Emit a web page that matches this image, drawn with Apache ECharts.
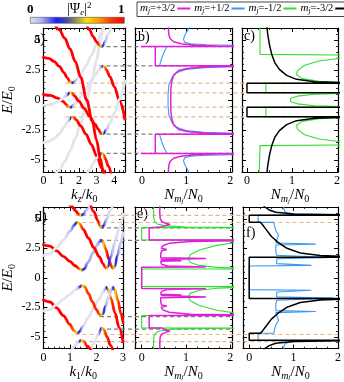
<!DOCTYPE html>
<html><head><meta charset="utf-8">
<script src="https://cdn.jsdelivr.net/npm/echarts@6/dist/echarts.min.js"></script>
<style>html,body{margin:0;padding:0;background:#fff}#c{width:344px;height:382px}</style>
</head><body><div id="c"></div><script>
// ---------------- DATA ----------------
const eMajor = [-5, -2.5, 0, 2.5, 5];
const eMinor = [-6,-5.5,-4.5,-4,-3.5,-3,-2,-1.5,-1,-0.5,0.5,1,1.5,2,3,3.5,4,4.5,5.5,6];
const kzMajor = [0, 1, 2, 3, 4];
const kzMinor = [0.25,0.5,0.75,1.25,1.5,1.75,2.25,2.5,2.75,3.25,3.5,3.75,4.25,4.5];
const k1Major = [0, 1, 2, 3];
const k1Minor = [0.2,0.4,0.6,0.8,1.2,1.4,1.6,1.8,2.2,2.4,2.6,2.8];
const nMajor = [0, 1, 2];
const nMinor = [0.25,0.5,0.75,1.25,1.5,1.75];
const mjNames = ['+3/2', '+1/2', '-1/2', '-3/2'];

// panel a: bands E(k_z) and electron weight |Psi_e|^2 along k_z
const aU1 = [[0,3.55],[0.3,3.47],[0.6,3.22],[0.9,2.8],[1.15,2.3],[1.35,1.85],[1.5,1.55],[1.6,1.43],[1.7,1.45],[1.85,1.65],[2.1,2.15],[2.4,2.85],[2.7,3.7],[3.0,4.65],[3.3,5.7],[3.5,6.4]];
const aU1w = [[0,1],[1.4,1],[1.5,0.85],[1.56,0.62],[1.61,0.42],[1.66,0.28],[1.76,0.12],[1.95,0],[3.5,0]];
const aL1 = [[0,-3.55],[0.3,-3.47],[0.6,-3.22],[0.9,-2.8],[1.15,-2.3],[1.35,-1.85],[1.5,-1.55],[1.6,-1.43],[1.7,-1.45],[1.85,-1.65],[2.1,-2.15],[2.4,-2.85],[2.7,-3.7],[3.0,-4.65],[3.3,-5.7],[3.5,-6.4]];
const aL1w = [[0,0],[1.4,0],[1.5,0.15],[1.56,0.38],[1.61,0.58],[1.66,0.72],[1.76,0.88],[1.95,1],[3.5,1]];
const aU2 = [[0,-0.45],[0.4,-0.38],[0.8,-0.15],[1.1,0.12],[1.3,0.38],[1.44,0.56],[1.52,0.62],[1.6,0.57],[1.75,0.35],[2.0,-0.1],[2.3,-0.7],[2.6,-1.35],[2.9,-2.0],[3.1,-2.45],[3.22,-2.72],[3.32,-2.83],[3.42,-2.76],[3.55,-2.5],[3.75,-1.95],[4.0,-1.1],[4.3,0.1],[4.6,1.6]];
const aU2w = [[0,0],[1.25,0],[1.38,0.12],[1.46,0.28],[1.52,0.45],[1.58,0.62],[1.68,0.85],[1.8,1],[3.12,1],[3.22,0.82],[3.28,0.6],[3.33,0.42],[3.38,0.27],[3.48,0.1],[3.65,0],[4.6,0]];
const aL2 = [[0,0.45],[0.4,0.38],[0.8,0.15],[1.1,-0.12],[1.3,-0.38],[1.44,-0.56],[1.52,-0.62],[1.6,-0.57],[1.75,-0.35],[2.0,0.1],[2.3,0.7],[2.6,1.35],[2.9,2.0],[3.1,2.45],[3.22,2.72],[3.32,2.83],[3.42,2.76],[3.55,2.5],[3.75,1.95],[4.0,1.1],[4.3,-0.1],[4.6,-1.6]];
const aL2w = [[0,1],[1.25,1],[1.38,0.88],[1.46,0.72],[1.52,0.55],[1.58,0.38],[1.68,0.15],[1.8,0],[3.12,0],[3.22,0.18],[3.28,0.4],[3.33,0.58],[3.38,0.73],[3.48,0.9],[3.65,1],[4.6,1]];
const aU3 = [[2.4,6.4],[2.6,5.85],[2.8,5.3],[3.0,4.85],[3.15,4.58],[3.27,4.45],[3.38,4.55],[3.5,4.9],[3.65,5.5],[3.85,6.4]];
const aU3w = [[2.4,1],[3.05,1],[3.15,0.82],[3.22,0.6],[3.28,0.42],[3.33,0.27],[3.43,0.1],[3.58,0],[3.85,0]];
const aL3 = [[2.4,-6.4],[2.6,-5.85],[2.8,-5.3],[3.0,-4.85],[3.15,-4.58],[3.27,-4.45],[3.38,-4.55],[3.5,-4.9],[3.65,-5.5],[3.85,-6.4]];
const aL3w = [[2.4,0],[3.05,0],[3.15,0.18],[3.22,0.4],[3.28,0.58],[3.33,0.73],[3.43,0.9],[3.58,1],[3.85,1]];
const aB1 = [[0.6,6.4],[0.9,5.85],[1.2,5.15],[1.5,4.25],[1.8,3.2],[2.1,1.9],[2.44,0],[2.75,-1.75],[3.0,-3.35],[3.2,-4.85],[3.38,-6.4]];
const aB1w = [[0.6,1],[3.38,1]];
const aB2 = [[0.6,-6.4],[0.9,-5.85],[1.2,-5.15],[1.5,-4.25],[1.8,-3.2],[2.1,-1.9],[2.44,0],[2.75,1.75],[3.0,3.35],[3.2,4.85],[3.38,6.4]];
const aB2w = [[0.6,0],[3.38,0]];

// panel d: bands E(k_1)
const dU1 = [[0,2.8],[0.25,2.68],[0.5,2.28],[0.75,1.82],[1.0,1.4],[1.2,1.02],[1.35,0.78],[1.45,0.66],[1.55,0.76],[1.7,1.35],[1.85,2.05],[2.0,2.7],[2.1,3.05],[2.16,3.2],[2.24,3.05],[2.35,2.4],[2.47,1.55],[2.56,1.0],[2.62,0.82],[2.68,0.95],[2.8,1.9],[2.92,3.0],[3.0,3.8]];
const dU1w = [[0,1],[1.25,1],[1.36,0.8],[1.42,0.6],[1.47,0.42],[1.53,0.27],[1.65,0.14],[2.0,0.1],[2.1,0.2],[2.16,0.42],[2.22,0.65],[2.32,0.9],[2.4,1],[2.5,0.9],[2.57,0.7],[2.62,0.45],[2.67,0.28],[2.78,0.1],[2.9,0.03],[3.0,0.03]];
const dL1 = [[0,-2.8],[0.25,-2.68],[0.5,-2.28],[0.75,-1.82],[1.0,-1.4],[1.2,-1.02],[1.35,-0.78],[1.45,-0.66],[1.55,-0.76],[1.7,-1.35],[1.85,-2.05],[2.0,-2.7],[2.1,-3.05],[2.16,-3.2],[2.24,-3.05],[2.35,-2.4],[2.47,-1.55],[2.56,-1.0],[2.62,-0.82],[2.68,-0.95],[2.8,-1.9],[2.92,-3.0],[3.0,-3.8]];
const dL1w = [[0,0],[1.25,0],[1.36,0.2],[1.42,0.4],[1.47,0.58],[1.53,0.73],[1.65,0.86],[2.0,0.9],[2.1,0.8],[2.16,0.58],[2.22,0.35],[2.32,0.1],[2.4,0],[2.5,0.1],[2.57,0.3],[2.62,0.55],[2.67,0.72],[2.78,0.9],[2.9,0.97],[3.0,0.97]];
const dU3 = [[0,1.88],[0.25,2.05],[0.5,2.55],[0.75,3.2],[1.0,3.95],[1.15,4.45],[1.27,4.7],[1.36,4.58],[1.5,4.1],[1.7,3.35],[1.9,2.55],[2.1,1.8],[2.25,1.2],[2.33,0.9],[2.37,0.82],[2.43,0.95],[2.55,1.8],[2.7,3.0],[2.85,4.2],[3.0,5.4]];
const dU3w = [[0,0],[0.85,0],[1.05,0.1],[1.2,0.25],[1.27,0.45],[1.33,0.62],[1.42,0.82],[1.55,1],[2.2,1],[2.3,0.82],[2.35,0.6],[2.38,0.42],[2.43,0.27],[2.55,0.08],[2.7,0],[3.0,0]];
const dL3 = [[0,-1.88],[0.25,-2.05],[0.5,-2.55],[0.75,-3.2],[1.0,-3.95],[1.15,-4.45],[1.27,-4.7],[1.36,-4.58],[1.5,-4.1],[1.7,-3.35],[1.9,-2.55],[2.1,-1.8],[2.25,-1.2],[2.33,-0.9],[2.37,-0.82],[2.43,-0.95],[2.55,-1.8],[2.7,-3.0],[2.85,-4.2],[3.0,-5.4]];
const dL3w = [[0,1],[0.85,1],[1.05,0.9],[1.2,0.75],[1.27,0.55],[1.33,0.38],[1.42,0.18],[1.55,0],[2.2,0],[2.3,0.18],[2.35,0.4],[2.38,0.58],[2.43,0.73],[2.55,0.92],[2.7,1],[3.0,1]];
const dU2 = [[0.93,6.4],[1.05,6.1],[1.2,5.7],[1.32,5.42],[1.42,5.3],[1.52,5.4],[1.65,5.8],[1.85,6.4]];
const dU2w = [[0.93,1],[1.3,1],[1.37,0.75],[1.42,0.45],[1.47,0.27],[1.58,0.08],[1.7,0],[1.85,0]];
const dL2 = [[0.93,-6.4],[1.05,-6.1],[1.2,-5.7],[1.32,-5.42],[1.42,-5.3],[1.52,-5.4],[1.65,-5.8],[1.85,-6.4]];
const dL2w = [[0.93,0],[1.3,0],[1.37,0.25],[1.42,0.55],[1.47,0.73],[1.58,0.92],[1.7,1],[1.85,1]];
const dU4 = [[1.75,6.4],[1.9,5.6],[2.05,4.85],[2.15,4.4],[2.2,4.27],[2.27,4.4],[2.4,5.0],[2.52,5.7],[2.65,6.4]];
const dU4w = [[1.75,1],[2.08,1],[2.15,0.75],[2.2,0.45],[2.25,0.27],[2.35,0.08],[2.45,0],[2.65,0]];
const dL4 = [[1.75,-6.4],[1.9,-5.6],[2.05,-4.85],[2.15,-4.4],[2.2,-4.27],[2.27,-4.4],[2.4,-5.0],[2.52,-5.7],[2.65,-6.4]];
const dL4w = [[1.75,0],[2.08,0],[2.15,0.25],[2.2,0.55],[2.25,0.73],[2.35,0.92],[2.45,1],[2.65,1]];

// gap edges (dashed lines): energy levels and k where they start
const topTanE = [1.4, 0.6, -0.6, -1.4];   const topTanK = 1.68;
const topGrayE = [4.45, 2.85, -2.85, -4.45]; const topGrayK = 3.35;
const botTanE = [5.3, 4.7, -4.7, -5.3];   const botTanK = 1.45;
const botGrayE = [4.25, 3.2, -3.2, -4.25]; const botGrayK = 2.25;

// DOS panels: [N, E]; '-' breaks the line
const B = ['-','-'];
const bMag = [[0.6,6.2],[0.6,5.8],[0.61,5.4],[0.64,5.1],[0.72,4.85],[0.88,4.68],[1.2,4.56],[1.7,4.5],[2.3,4.47],B,
 [2.3,4.45],[-0.03,4.45],B,[0.3,4.45],[0.3,2.85],[2.3,2.85],B,
 [2.3,2.82],[1.5,2.77],[1.05,2.65],[0.83,2.45],[0.72,2.1],[0.67,1.5],[0.65,0.7],[0.65,-0.7],[0.67,-1.5],[0.72,-2.1],[0.83,-2.45],[1.05,-2.65],[1.5,-2.77],[2.3,-2.82],B,
 [2.3,-2.85],[0.3,-2.85],[0.3,-4.45],B,[-0.03,-4.45],[2.3,-4.45],B,
 [2.3,-4.47],[1.7,-4.5],[1.2,-4.56],[0.88,-4.68],[0.72,-4.85],[0.64,-5.1],[0.61,-5.4],[0.6,-5.8],[0.6,-6.2]];
const bBlue = [[1.1,6.2],[1.03,5.8],[0.97,5.4],[0.94,5.05],[0.97,4.82],[1.1,4.68],[1.45,4.6],[2.3,4.55],B,
 [0.56,4.42],[0.5,4.0],[0.45,3.5],[0.41,3.05],[0.4,2.88],B,
 [2.3,2.8],[1.4,2.7],[1.0,2.55],[0.8,2.3],[0.68,1.9],[0.61,1.3],[0.59,0.5],[0.59,-0.5],[0.61,-1.3],[0.68,-1.9],[0.8,-2.3],[1.0,-2.55],[1.4,-2.7],[2.3,-2.8],B,
 [0.4,-2.88],[0.41,-3.05],[0.45,-3.5],[0.5,-4.0],[0.56,-4.42],B,
 [2.3,-4.55],[1.45,-4.6],[1.1,-4.68],[0.97,-4.82],[0.94,-5.05],[0.97,-5.4],[1.03,-5.8],[1.1,-6.2]];
const cBlack = [[0.44,6.2],[0.46,5.5],[0.5,4.6],[0.55,3.8],[0.62,3.1],[0.72,2.55],[0.88,2.05],[1.1,1.72],[1.5,1.53],[2.2,1.45],B,
 [2.2,1.4],[0,1.4],[0,0.6],[2.2,0.6],B,[2.2,-0.6],[0,-0.6],[0,-1.4],[2.2,-1.4],B,
 [2.2,-1.45],[1.5,-1.53],[1.1,-1.72],[0.88,-2.05],[0.72,-2.55],[0.62,-3.1],[0.55,-3.8],[0.5,-4.6],[0.46,-5.5],[0.44,-6.2]];
const cGreen = [[0.29,6.2],[0.29,3.8],[2.2,3.75],B,
 [2.2,3.55],[1.6,3.25],[1.28,2.9],[1.12,2.45],[1.1,2.1],[1.22,1.78],[1.6,1.55],[2.2,1.46],B,
 [2.2,1.4],[0.42,1.4],[0.42,0.6],[2.2,0.6],B,
 [2.2,0.56],[1.5,0.48],[1.12,0.32],[0.97,0.14],[0.95,0],[0.97,-0.14],[1.12,-0.32],[1.5,-0.48],[2.2,-0.56],B,
 [2.2,-0.6],[0.42,-0.6],[0.42,-1.4],[2.2,-1.4],B,
 [2.2,-1.46],[1.6,-1.55],[1.22,-1.78],[1.1,-2.1],[1.12,-2.45],[1.28,-2.9],[1.6,-3.25],[2.2,-3.55],B,
 [2.2,-3.75],[0.29,-3.8],[0.27,-6.2]];
const eMag = [[0.41,6.2],[0.41,5.4],[0.42,5.0],[0.46,4.75],[0.56,4.6],[0.64,4.52],[0.52,4.42],[0.45,4.3],[0.45,4.25],[0.17,4.25],[0.17,3.2],[2.3,3.2],B,
 [2.3,3.15],[1.1,3.08],[0.62,2.92],[0.48,2.72],[0.44,2.5],[0.57,2.4],[0.45,2.3],[0.43,2.0],[0.43,1.7],[1.45,1.63],[0.43,1.56],[0.43,1.5],[0.9,1.45],[0.43,1.4],[0.45,1.15],[0.58,1.0],[1.45,0.92],[0,0.9],
 [0,-0.9],[1.45,-0.92],[0.58,-1.0],[0.45,-1.15],[0.43,-1.4],[0.9,-1.45],[0.43,-1.5],[0.43,-1.56],[1.45,-1.63],[0.43,-1.7],[0.43,-2.0],[0.45,-2.3],[0.57,-2.4],[0.44,-2.5],[0.48,-2.72],[0.62,-2.92],[1.1,-3.08],[2.3,-3.15],B,
 [2.3,-3.2],[0.17,-3.2],[0.17,-4.25],[0.45,-4.25],[0.45,-4.3],[0.52,-4.42],[0.64,-4.52],[0.56,-4.6],[0.46,-4.75],[0.42,-5.0],[0.41,-5.4],[0.41,-6.2]];
const eGreen = [[0.27,6.2],[0.27,5.2],[0.29,4.8],[0.36,4.55],[0.55,4.4],[1.0,4.31],[2.3,4.27],B,
 [2.3,4.25],[0,4.25],[0,3.2],[2.3,3.2],B,
 [2.3,3.1],[1.7,2.75],[1.3,2.35],[1.1,1.95],[1.05,1.6],[1.1,1.3],[1.3,1.05],[1.7,0.88],[2.3,0.8],B,
 [2.3,0.75],[0,0.75],[0,-0.75],[2.3,-0.75],B,
 [2.3,-0.8],[1.7,-0.88],[1.3,-1.05],[1.1,-1.3],[1.05,-1.6],[1.1,-1.95],[1.3,-2.35],[1.7,-2.75],[2.3,-3.1],B,
 [2.3,-3.2],[0,-3.2],[0,-4.25],[2.3,-4.25],B,
 [2.3,-4.27],[1.0,-4.31],[0.55,-4.4],[0.36,-4.55],[0.29,-4.8],[0.27,-5.2],[0.27,-6.2]];
const fBlack = [[0.3,6.2],[0.35,6.0],[0.45,5.75],[0.6,5.55],[1.0,5.4],[2.2,5.33],B,
 [2.2,5.3],[0,5.3],[0,4.7],[0.25,4.7],[0.3,4.5],[0.4,4.0],[0.5,3.5],[0.65,3.0],[0.85,2.5],[1.15,2.1],[1.6,1.88],[2.2,1.8],B,
 [2.2,1.75],[0,1.75],[0,-1.75],[2.2,-1.75],B,
 [2.2,-1.8],[1.6,-1.88],[1.15,-2.1],[0.85,-2.5],[0.65,-3.0],[0.5,-3.5],[0.4,-4.0],[0.3,-4.5],[0.25,-4.7],[0,-4.7],[0,-5.3],[2.2,-5.3],B,
 [2.2,-5.33],[1.0,-5.4],[0.6,-5.55],[0.45,-5.75],[0.35,-6.0],[0.3,-6.2]];
const fBlue = [[0.78,6.2],[0.78,5.8],[0.82,5.55],[0.95,5.42],[1.1,5.36],[0.2,5.3],[0.2,4.7],[0.55,4.7],[0.57,4.4],[0.6,4.0],[0.66,3.6],[0.62,3.2],[0.6,2.95],[1.5,2.85],[0.6,2.78],[0.6,2.2],[0.62,1.9],[1.9,1.72],[0.62,1.62],[0.62,1.2],[1.4,1.05],[0,1.0],
 [0,-1.0],[1.4,-1.05],[0.62,-1.2],[0.62,-1.62],[1.9,-1.72],[0.62,-1.9],[0.6,-2.2],[0.6,-2.78],[1.5,-2.85],[0.6,-2.95],[0.62,-3.2],[0.66,-3.6],[0.6,-4.0],[0.57,-4.4],[0.55,-4.7],[0.2,-4.7],[0.2,-5.3],[1.1,-5.36],[0.95,-5.42],[0.82,-5.55],[0.78,-5.8],[0.78,-6.2]];

// ---------------- STYLE / LAYOUT ----------------
const FONT = '"Liberation Serif","DejaVu Serif",serif';
const COL = {'+3/2':'#e020d8','+1/2':'#3d98f0','-1/2':'#2ee02e','-3/2':'#000000'};
const CMAP = [[0,[228,226,236]],[0.12,[180,180,238]],[0.28,[25,25,255]],[0.4,[80,80,140]],[0.5,[165,155,80]],[0.6,[248,228,0]],[0.72,[255,160,0]],[0.86,[255,50,0]],[1,[255,0,0]]];
function cmap(a){
  a=Math.max(0,Math.min(1,a));
  for(let i=1;i<CMAP.length;i++){ if(a<=CMAP[i][0]){ const [a0,c0]=CMAP[i-1],[a1,c1]=CMAP[i]; const t=(a-a0)/(a1-a0);
    return 'rgb('+c0.map((v,j)=>Math.round(v+(c1[j]-v)*t)).join(',')+')'; } }
  return 'rgb(255,0,0)';
}
const P = {
 a:{left:31,top:28,width:94,height:144}, b:{left:135,top:28,width:97,height:144}, c:{left:242,top:28,width:96,height:144},
 d:{left:31,top:207,width:92,height:143}, e:{left:135,top:207,width:97,height:143}, f:{left:243,top:207,width:95,height:143}};
const RICH = {
 i:{fontFamily:FONT,fontStyle:'italic',fontSize:15,color:'#000',lineHeight:18,verticalAlign:'middle'},
 t:{fontFamily:FONT,fontSize:15,color:'#000',lineHeight:18,verticalAlign:'middle'},
 s:{fontFamily:FONT,fontSize:10,color:'#000',lineHeight:18,verticalAlign:'bottom'},
 si:{fontFamily:FONT,fontStyle:'italic',fontSize:10,color:'#000',lineHeight:18,verticalAlign:'bottom'},
 ss:{fontFamily:FONT,fontStyle:'italic',fontSize:7,color:'#000',lineHeight:16,verticalAlign:'bottom'}};
const grids=[], xAxes=[], yAxes=[];
function panel(p, xr, xMaj, xMin, o){
  grids.push({left:p.left,top:p.top,width:p.width,height:p.height,containLabel:false});
  const gi=grids.length-1, xi=xAxes.length, yi=yAxes.length;
  const line={show:true,onZero:false,lineStyle:{color:'#000',width:1.2}};
  const noLine={show:false,onZero:false};
  ['bottom','top'].forEach(pos=>{
    xAxes.push({gridIndex:gi,type:'value',min:xr[0],max:xr[1],position:pos,splitLine:{show:false},axisLine:line,
      axisTick:{show:true,inside:true,length:4,customValues:xMaj,lineStyle:{color:'#000',width:1}},
      axisLabel:{show:pos==='bottom',customValues:xMaj,margin:3,color:'#000',fontFamily:FONT,fontSize:12},
      name:pos==='bottom'?o.xName:'',nameLocation:'middle',nameGap:o.xGap,nameTextStyle:{rich:RICH}});
    xAxes.push({gridIndex:gi,type:'value',min:xr[0],max:xr[1],position:pos,splitLine:{show:false},axisLine:noLine,
      axisTick:{show:true,inside:true,length:2,customValues:xMin,lineStyle:{color:'#000',width:0.8}},axisLabel:{show:false}});
  });
  ['left','right'].forEach(pos=>{
    yAxes.push({gridIndex:gi,type:'value',min:-6,max:6,position:pos,splitLine:{show:false},axisLine:line,
      axisTick:{show:true,inside:true,length:4,customValues:eMajor,lineStyle:{color:'#000',width:1}},
      axisLabel:{show:pos==='left'&&!!o.yName,customValues:eMajor,margin:3,color:'#000',fontFamily:FONT,fontSize:12},
      name:(pos==='left'&&o.yName)?o.yName:'',nameLocation:'middle',nameGap:14,nameTextStyle:{rich:RICH}});
    yAxes.push({gridIndex:gi,type:'value',min:-6,max:6,position:pos,splitLine:{show:false},axisLine:noLine,
      axisTick:{show:true,inside:true,length:2,customValues:eMinor,lineStyle:{color:'#000',width:0.8}},axisLabel:{show:false}});
  });
  return {xi,yi};
}
const NNAME='{i|N}{si|m}{ss|j}{t|/}{i|N}{s|0}';
const EN='{i|E}{t|/}{i|E}{s|0}';
const pa=panel(P.a,[0,4.6],kzMajor,kzMinor,{xName:'{i|k}{si|z}{t|/}{i|k}{s|0}',xGap:8,yName:EN});
const pb=panel(P.b,[-0.16,2.04],nMajor,nMinor,{xName:NNAME,xGap:8});
const pc=panel(P.c,[-0.11,2.02],nMajor,nMinor,{xName:NNAME,xGap:8});
const pd=panel(P.d,[0,3],k1Major,k1Minor,{xName:'{i|k}{s|1}{t|/}{i|k}{s|0}',xGap:12,yName:EN});
const pe=panel(P.e,[-0.15,2.04],nMajor,nMinor,{xName:NNAME,xGap:12});
const pf=panel(P.f,[-0.14,2.0],nMajor,nMinor,{xName:NNAME,xGap:12});

// overlay grids for the dashed gap-edge lines (span whole row, x in panel a / d units)
function overlay(first,last,kmax){
  grids.push({left:first.left,top:first.top,width:last.left+last.width-first.left,height:first.height});
  const gi=grids.length-1;
  const xmax=kmax*(last.left+last.width-first.left)/first.width;
  xAxes.push({gridIndex:gi,type:'value',min:0,max:xmax,show:false});
  yAxes.push({gridIndex:gi,type:'value',min:-6,max:6,show:false});
  return {xi:xAxes.length-1, yi:yAxes.length-1, toX:(px)=>kmax*(px-first.left)/first.width, xmax};
}
const o1=overlay(P.a,P.c,4.6), o2=overlay(P.d,P.f,3);
const series=[];
function dash(o,E,k0,k1,color){
  series.push({type:'line',xAxisIndex:o.xi,yAxisIndex:o.yi,data:[[k0,E],[k1,E]],showSymbol:false,silent:true,z:1,
    lineStyle:{color,width:1.2,type:[4,3]}});
}
topTanE.forEach(E=>dash(o1,E,topTanK,o1.xmax,'#e6b68a'));
topGrayE.forEach(E=>dash(o1,E,topGrayK,o1.toX(P.b.left+P.b.width),'#7c7c7c'));
botTanE.forEach(E=>dash(o2,E,botTanK,o2.xmax,'#e6b68a'));
botGrayE.forEach(E=>dash(o2,E,botGrayK,o2.toX(P.e.left+P.e.width),'#7c7c7c'));

function band(p,pts,w,z){
  const k0=pts[0][0], k1=pts[pts.length-1][0], off=k=>Math.max(0,Math.min(1,(k-k0)/(k1-k0)));
  const stops=[];
  for(let i=0;i<w.length;i++){
    if(i>0){ const [kp,ap]=w[i-1],[kc,ac]=w[i];
      for(let s=1;s<8;s++){const t=s/8; stops.push({offset:off(kp+(kc-kp)*t),color:cmap(ap+(ac-ap)*t)});} }
    stops.push({offset:off(w[i][0]),color:cmap(w[i][1])});
  }
  series.push({type:'line',xAxisIndex:p.xi,yAxisIndex:p.yi,data:pts,showSymbol:false,smooth:0.35,smoothMonotone:'x',silent:true,clip:true,z:z||2,
    lineStyle:{width:2.8,cap:'round',color:{type:'linear',x:0,y:0,x2:1,y2:0,colorStops:stops}}});
}
band(pa,aB2,aB2w);
band(pa,aU1,aU1w); band(pa,aL2,aL2w); band(pa,aU3,aU3w);
band(pa,aL1,aL1w); band(pa,aU2,aU2w); band(pa,aL3,aL3w);
band(pa,aB1,aB1w,3);
band(pd,dU1,dU1w); band(pd,dL3,dL3w); band(pd,dU2,dU2w); band(pd,dL4,dL4w);
band(pd,dL1,dL1w); band(pd,dU3,dU3w); band(pd,dL2,dL2w); band(pd,dU4,dU4w);

function dos(p,name,data,w){
  series.push({type:'line',name,xAxisIndex:p.xi,yAxisIndex:p.yi,data,showSymbol:false,silent:true,clip:true,z:3,
    itemStyle:{color:COL[name]},lineStyle:{color:COL[name],width:w}});
}
dos(pb,'+1/2',bBlue,1.1); dos(pb,'+3/2',bMag,1.5);
dos(pc,'-1/2',cGreen,1.1); dos(pc,'-3/2',cBlack,1.5);
dos(pe,'-1/2',eGreen,1.1); dos(pe,'+3/2',eMag,1.5);
dos(pf,'+1/2',fBlue,1.1); dos(pf,'-3/2',fBlack,1.5);

const barStops=[]; for(let i=0;i<=40;i++){barStops.push({offset:i/40,color:cmap(i/40)});}
const lab=(t,x,y)=>({type:'text',left:x,top:y,silent:true,style:{text:t,font:'14px '+FONT,fill:'#000'}});
const option={
  animation:false, backgroundColor:'#fff',
  grid:grids, xAxis:xAxes, yAxis:yAxes, series,
  legend:{left:137,top:2,width:215,data:mjNames,icon:'rect',itemWidth:13,itemHeight:2,itemGap:4,align:'right',selectedMode:false,
    padding:[1,2,1,3],borderColor:'#444',borderWidth:1,
    textStyle:{fontFamily:FONT,fontSize:10,color:'#000',padding:[0,-3,0,0],
      rich:{m:{fontFamily:FONT,fontStyle:'italic',fontSize:11,lineHeight:14,verticalAlign:'middle'},
            j:{fontFamily:FONT,fontStyle:'italic',fontSize:7.5,lineHeight:14,verticalAlign:'bottom'},
            t:{fontFamily:FONT,fontSize:10.5,lineHeight:14,verticalAlign:'middle'}}},
    formatter:n=>'{m|m}{j|j}{t|='+n+'}'},
  graphic:[
    {type:'rect',left:30,top:17,silent:true,shape:{width:94,height:6},style:{fill:new echarts.graphic.LinearGradient(0,0,1,0,barStops),stroke:'#555',lineWidth:0.6}},
    {type:'text',left:27,top:3,silent:true,style:{text:'0',font:'bold 13px '+FONT,fill:'#000'}},
    {type:'text',left:118,top:3,silent:true,style:{text:'1',font:'bold 13px '+FONT,fill:'#000'}},
    {type:'text',left:67,top:1,silent:true,style:{text:'{a||Ψ}{e|e}{a||}{p|2}',
      rich:{a:{fontFamily:FONT,fontSize:14,lineHeight:16,verticalAlign:'middle',fill:'#000'},
            e:{fontFamily:FONT,fontStyle:'italic',fontSize:9,lineHeight:16,verticalAlign:'bottom',fill:'#000'},
            p:{fontFamily:FONT,fontSize:9,lineHeight:16,verticalAlign:'top',fill:'#000'}}}},
    lab('a)',34,32), lab('b)',138,30), lab('c)',244,29), lab('d)',35,210), lab('e)',137,207), lab('f)',246,226)
  ]
};
const chart=echarts.init(document.getElementById('c'),null,{renderer:'canvas',width:344,height:382});
chart.setOption(option);
</script></body></html>
